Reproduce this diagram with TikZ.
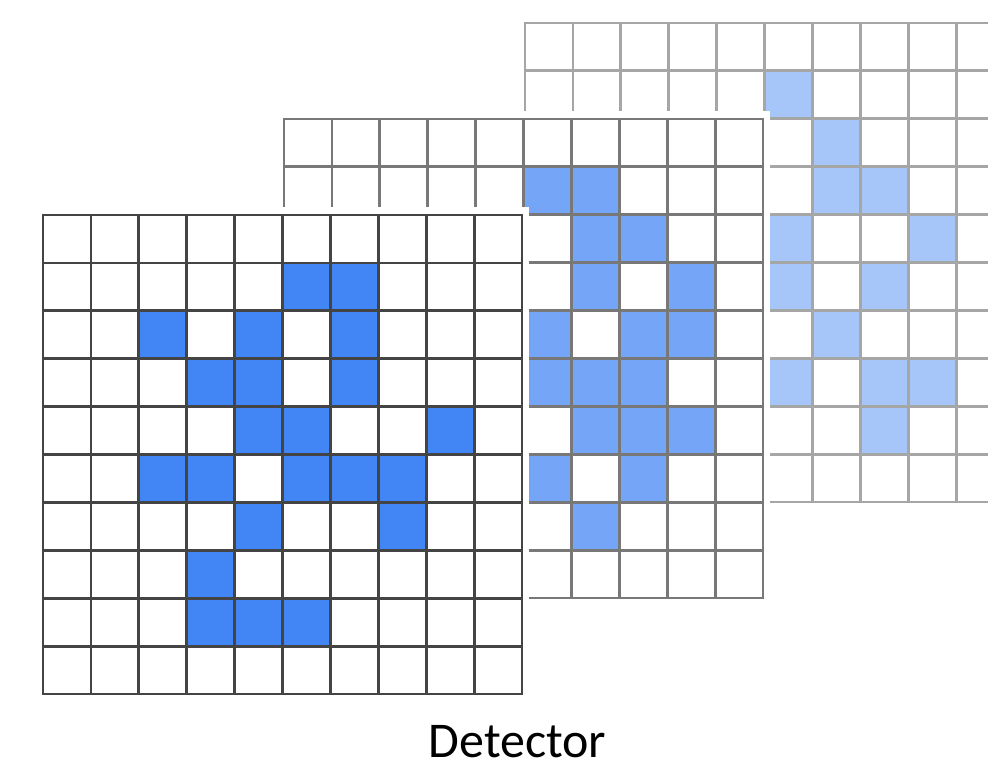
\documentclass[tikz,border=0pt]{standalone}
\usepackage{fontspec}
\setmainfont{Carlito}
\definecolor{frontfill}{HTML}{4285F4}
\definecolor{midfill}{HTML}{74A5F7}
\definecolor{backfill}{HTML}{A6C5F9}
\definecolor{frontline}{HTML}{444444}
\definecolor{midline}{HTML}{787878}
\definecolor{backline}{HTML}{A6A6A6}
\newcommand\detgrid[5]{%
  \fill[white] ({#1-7},{#2-8}) rectangle ++(493,494);
  \foreach \r/\c in {#5}{\fill[#3] ({#1+\c*47.9},{#2+\r*47.9}) rectangle ++(47.9,47.9);}
  \foreach \i in {0,...,10}{%
    \draw[gridline,#4] ({#1+\i*47.9},#2) -- ++(0,479);
    \draw[gridline,#4] (#1,{#2+\i*47.9}) -- ++(479,0);}
}
\tikzset{gridline/.style={line width=2.8pt,line cap=rect}}
\begin{document}
\begin{tikzpicture}[x=1pt,y=-1pt]
\useasboundingbox (0,0) rectangle (988,773);
\clip (0,0) rectangle (988,773);
% back grid
\detgrid{525}{23}{backfill}{backline}{1/5,2/6,3/6,3/7,4/5,4/8,5/5,5/7,6/6,7/5,7/7,7/8,8/7}
% middle grid
\detgrid{284}{119}{midfill}{midline}{1/5,1/6,2/6,2/7,3/6,3/8,4/5,4/7,4/8,5/5,5/6,5/7,6/6,6/7,6/8,7/5,7/7,8/6}
% front grid
\detgrid{43}{215}{frontfill}{frontline}{1/5,1/6,2/2,2/4,2/6,3/3,3/4,3/6,4/4,4/5,4/8,5/2,5/3,5/5,5/6,5/7,6/4,6/7,7/3,8/3,8/4,8/5}
\node[font=\fontsize{50}{60}\selectfont, anchor=base, inner sep=0pt] (label) at (517.5,757) {Detector};
\end{tikzpicture}
\end{document}
